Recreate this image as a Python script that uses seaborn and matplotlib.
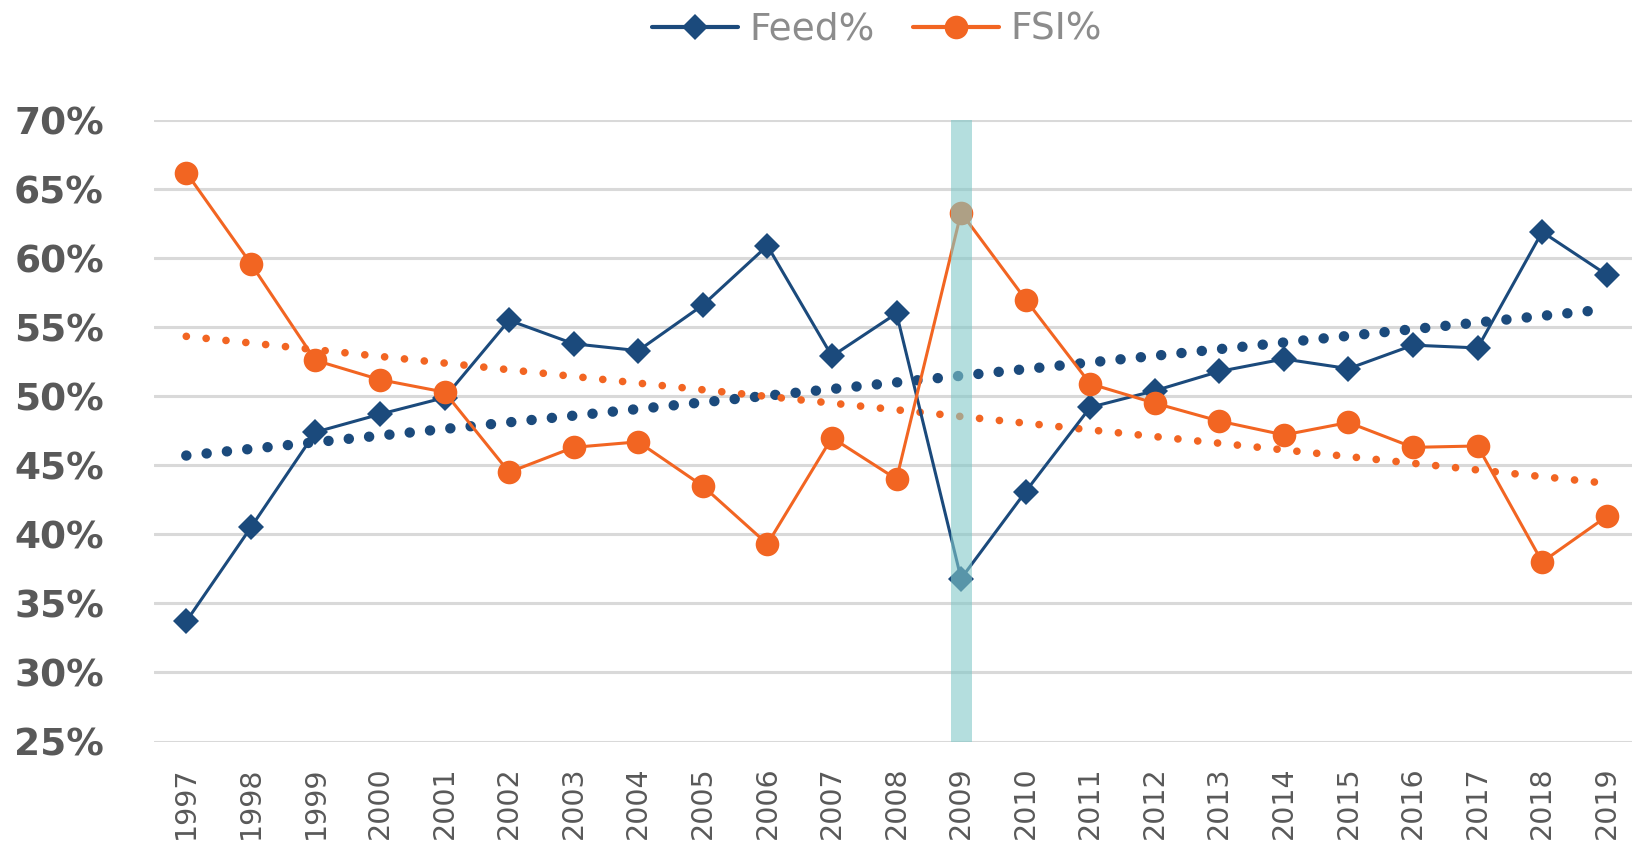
import numpy as np
import pandas as pd
import matplotlib
matplotlib.use("Agg")
import matplotlib.pyplot as plt
from matplotlib.lines import Line2D
import seaborn as sns

# data (values in %)
years = list(range(1997, 2020))
feed = [33.7, 40.5, 47.4, 48.7, 49.9, 55.5, 53.8, 53.3, 56.6, 60.9, 52.9, 56.0,
        36.8, 43.1, 49.2, 50.4, 51.8, 52.7, 52.0, 53.7, 53.5, 61.9, 58.8]
fsi = [66.2, 59.6, 52.6, 51.2, 50.3, 44.5, 46.3, 46.7, 43.5, 39.3, 47.0, 44.0,
       63.3, 57.0, 50.9, 49.5, 48.2, 47.2, 48.1, 46.3, 46.4, 38.0, 41.3]
y_ticks = [25, 30, 35, 40, 45, 50, 55, 60, 65, 70]
highlight_year = 2009

df = pd.DataFrame({"year": years, "Feed%": feed, "FSI%": fsi})

blue = "#1B4A7C"
orange = "#F26522"
label_gray = "#595959"

sns.set_theme(style="white")
plt.rcParams["font.family"] = ["DejaVu Sans"]

fig = plt.figure(figsize=(16.33, 8.49), dpi=100)
ax = fig.add_axes([0.0943, 0.1266, 0.9094, 0.732])

# linear trend lines (dotted)
sns.regplot(data=df, x="year", y="Feed%", scatter=False, ci=None, ax=ax,
            truncate=True,
            line_kws=dict(color=blue, linewidth=7.5, linestyle=(0, (0.01, 1.95)),
                          dash_capstyle="round", zorder=2))
sns.regplot(data=df, x="year", y="FSI%", scatter=False, ci=None, ax=ax,
            truncate=True,
            line_kws=dict(color=orange, linewidth=5.5, linestyle=(0, (0.01, 2.6)),
                          dash_capstyle="round", zorder=2))

# the two series
sns.lineplot(data=df, x="year", y="Feed%", ax=ax, color=blue, linewidth=2.2,
             marker="D", markersize=13, markeredgewidth=0,
             zorder=3, legend=False)
sns.lineplot(data=df, x="year", y="FSI%", ax=ax, color=orange, linewidth=2.2,
             marker="o", markersize=17, markeredgewidth=0,
             zorder=3, legend=False)

# highlighted year band
ax.axvspan(highlight_year - 0.1625, highlight_year + 0.1625,
           color="#82C8C8", alpha=0.6, lw=0, zorder=5)

ax.set_xlim(years[0] - 0.5, years[-1] + 0.5)
ax.set_ylim(y_ticks[0], y_ticks[-1])
ax.set_yticks(y_ticks)
ax.set_yticklabels([f"{v}%" for v in y_ticks], fontsize=27,
                   fontweight="bold", color=label_gray)
ax.set_xticks(years)
ax.set_xticklabels([str(y) for y in years], rotation=90, fontsize=20.5,
                   color=label_gray)
ax.tick_params(axis="y", length=0, pad=36)
ax.tick_params(axis="x", length=0, pad=18)
ax.set_xlabel("")
ax.set_ylabel("")

ax.grid(axis="y", color="#D9D9D9", lw=2.2)
ax.grid(axis="x", visible=False)
ax.set_axisbelow(True)
for s in ax.spines.values():
    s.set_visible(False)

handles = [
    Line2D([], [], color=blue, lw=3, marker="D", markersize=13, markeredgewidth=0),
    Line2D([], [], color=orange, lw=3, marker="o", markersize=17, markeredgewidth=0),
]
fig.legend(handles, ["Feed%", "FSI%"], loc="center", bbox_to_anchor=(0.537, 0.965),
           ncol=2, frameon=False, fontsize=27, labelcolor="#8C8C8C",
           handlelength=2.3, handletextpad=0.3, columnspacing=1.0)

fig.savefig("out.png", dpi=100)
